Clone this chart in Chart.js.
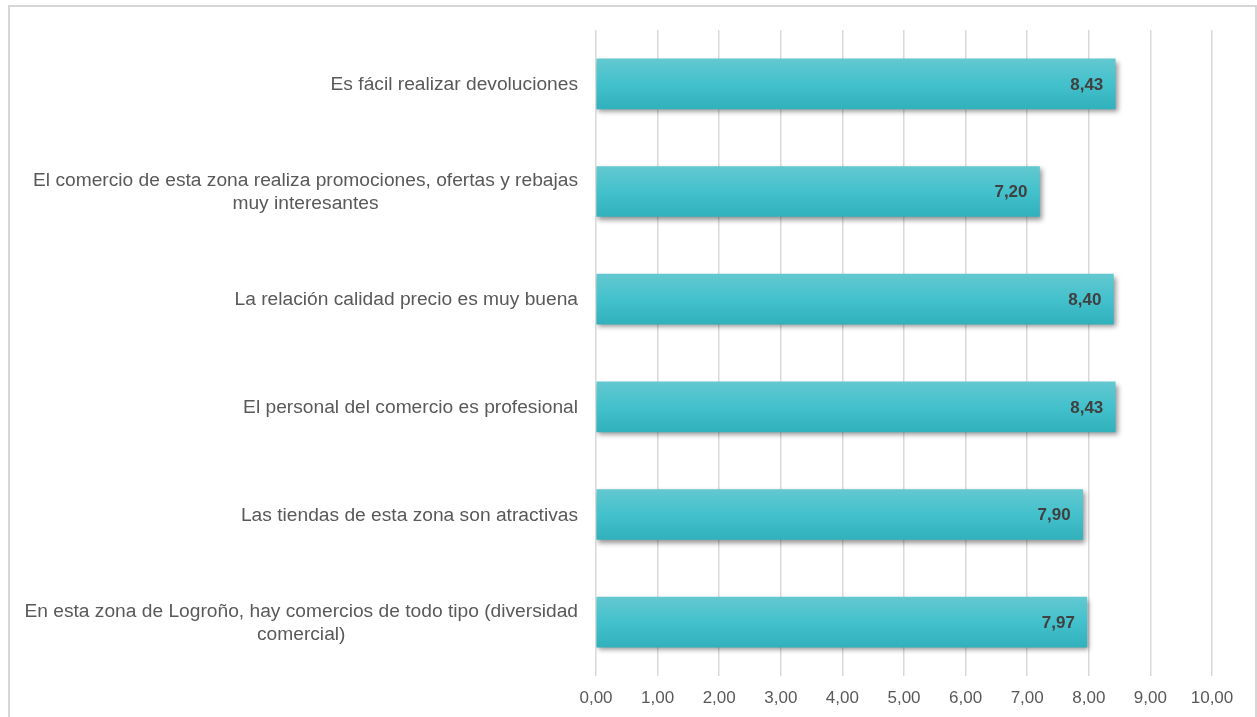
<!DOCTYPE html>
<html>
<head>
<meta charset="utf-8">
<script src="https://cdn.jsdelivr.net/npm/chart.js@4/dist/chart.umd.min.js"></script>
<style>
  html, body { margin: 0; padding: 0; background: #fff; }
  #wrap { position: relative; width: 1257px; height: 717px; overflow: hidden; }
  #frame { position: absolute; left: 8px; top: 5px; width: 1249px; height: 730px; border: 2px solid #d6d6d6; box-sizing: border-box; }
  #c { position: absolute; left: 0; top: 0; }
</style>
</head>
<body>
<div id="wrap">
  <div id="frame"></div>
  <canvas id="c" width="1257" height="717"></canvas>
</div>
<script>
// categorías (de arriba a abajo), con saltos de línea como en el informe
const categorias = [
  ['Es fácil realizar devoluciones'],
  ['El comercio de esta zona realiza promociones, ofertas y rebajas', 'muy interesantes'],
  ['La relación calidad precio es muy buena'],
  ['El personal del comercio es profesional'],
  ['Las tiendas de esta zona son atractivas'],
  ['En esta zona de Logroño, hay comercios de todo tipo (diversidad', 'comercial)']
];
const valores = [8.43, 7.20, 8.40, 8.43, 7.90, 7.97];
const ejeMin = 0, ejeMax = 10, ejePaso = 1;

const fmt = v => v.toFixed(2).replace('.', ',');
const LABEL_FONT = '19.2px "Liberation Sans", Arial, sans-serif';
const VALUE_FONT = 'bold 17px "Liberation Sans", Arial, sans-serif';
const BAR_H = 50;

// degradado vertical de cada barra
function barGrad(ctx) {
  const chart = ctx.chart;
  const ys = chart.scales.y;
  if (!ys || !chart.chartArea) return '#44c0cb';
  const yc = ys.getPixelForTick(ctx.dataIndex);
  const g = chart.ctx.createLinearGradient(0, yc - BAR_H / 2, 0, yc + BAR_H / 2);
  g.addColorStop(0, '#63c8d0');
  g.addColorStop(0.5, '#43c1cc');
  g.addColorStop(1, '#31b1bc');
  return g;
}

// sombra bajo las barras
const sombra = {
  id: 'sombra',
  beforeDatasetsDraw(chart) {
    const c = chart.ctx;
    c.save();
    c.shadowColor = 'rgba(0,0,0,0.42)';
    c.shadowBlur = 5;
    c.shadowOffsetX = 2;
    c.shadowOffsetY = 3;
  },
  afterDatasetsDraw(chart) { chart.ctx.restore(); }
};

// etiquetas de categoría: bloque alineado a la derecha, líneas centradas entre sí
const etiquetas = {
  id: 'etiquetas',
  afterDraw(chart) {
    const c = chart.ctx, ys = chart.scales.y;
    const right = chart.chartArea.left - 18;
    const lh = 23;
    c.save();
    c.font = LABEL_FONT;
    c.fillStyle = '#595959';
    c.textAlign = 'center';
    c.textBaseline = 'middle';
    categorias.forEach((lines, i) => {
      const w = Math.max(...lines.map(l => c.measureText(l).width));
      const cx = right - w / 2;
      const yc = ys.getPixelForTick(i) + 1;
      const y0 = yc - (lines.length - 1) * lh / 2;
      lines.forEach((l, k) => c.fillText(l, cx, y0 + k * lh));
    });
    c.restore();
  }
};

// valor dentro del extremo de cada barra
const valoresPlugin = {
  id: 'valores',
  afterDatasetsDraw(chart) {
    const c = chart.ctx, xs = chart.scales.x, ys = chart.scales.y;
    c.save();
    c.font = VALUE_FONT;
    c.fillStyle = '#404040';
    c.textAlign = 'right';
    c.textBaseline = 'middle';
    valores.forEach((v, i) => {
      c.fillText(fmt(v), xs.getPixelForValue(v) - 12, ys.getPixelForTick(i) + 1);
    });
    c.restore();
  }
};

new Chart(document.getElementById('c'), {
  type: 'bar',
  data: {
    labels: categorias,
    datasets: [{
      data: valores,
      backgroundColor: barGrad,
      borderWidth: 0,
      barThickness: BAR_H
    }]
  },
  options: {
    indexAxis: 'y',
    responsive: false,
    animation: false,
    layout: { padding: { left: 0, right: 45, top: 30, bottom: 0 } },
    plugins: { legend: { display: false }, tooltip: { enabled: false } },
    scales: {
      x: {
        min: ejeMin, max: ejeMax,
        ticks: {
          stepSize: ejePaso,
          color: '#595959',
          font: { family: '"Liberation Sans", Arial, sans-serif', size: 17 },
          padding: 12,
          callback: v => fmt(v)
        },
        grid: { color: '#d9d9d9', lineWidth: 1.5, drawTicks: false },
        border: { display: false },
        afterFit(s) { s.height = 41; }
      },
      y: {
        ticks: { display: false },
        grid: { display: false },
        border: { display: false },
        afterFit(s) { s.width = 596; }
      }
    }
  },
  plugins: [sombra, valoresPlugin, etiquetas]
});
</script>
</body>
</html>
